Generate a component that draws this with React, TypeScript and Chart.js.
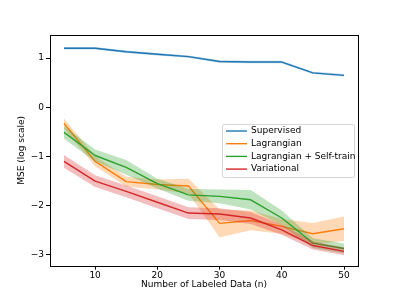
import React, { useEffect, useRef } from "react";
import { Chart, registerables } from "chart.js";

Chart.register(...registerables);

const nValues = [5, 10, 15, 20, 25, 30, 35, 40, 45, 50];
const xTicks = [10, 20, 30, 40, 50];
const yTicks = [-3, -2, -1, 0, 1];

const supervisedMean = [1.2, 1.2, 1.13, 1.08, 1.03, 0.93, 0.92, 0.92, 0.7, 0.65];
const supervisedStd = [0.025, 0.025, 0.025, 0.025, 0.025, 0.025, 0.025, 0.025, 0.025, 0.025];
const lagrangianMean = [-0.33, -1.1, -1.51, -1.57, -1.6, -2.36, -2.3, -2.42, -2.57, -2.47];
const lagrangianStd = [0.1, 0.1, 0.1, 0.1, 0.15, 0.28, 0.2, 0.15, 0.22, 0.25];
const selfTrainMean = [-0.51, -0.98, -1.22, -1.55, -1.78, -1.81, -1.88, -2.25, -2.76, -2.87];
const selfTrainStd = [0.13, 0.12, 0.15, 0.1, 0.12, 0.14, 0.2, 0.15, 0.1, 0.1];
const variationalMean = [-1.1, -1.5, -1.71, -1.93, -2.15, -2.17, -2.25, -2.49, -2.81, -2.93];
const variationalStd = [0.13, 0.12, 0.12, 0.12, 0.12, 0.12, 0.12, 0.1, 0.08, 0.08];

const seriesNames = ["Supervised", "Lagrangian", "Lagrangian + Self-train", "Variational"];
const seriesColors = ["#1f77b4", "#ff7f0e", "#2ca02c", "#d62728"];
const seriesFills = [
  "rgba(31,119,180,0.3)",
  "rgba(255,127,14,0.3)",
  "rgba(44,160,44,0.3)",
  "rgba(214,39,40,0.3)",
];
const seriesMeans = [supervisedMean, lagrangianMean, selfTrainMean, variationalMean];
const seriesStds = [supervisedStd, lagrangianStd, selfTrainStd, variationalStd];

const FONT = "'DejaVu Sans', sans-serif";

const fmt = (v: number) => (v < 0 ? "\u2212" + Math.abs(v) : String(v));

const framePlugin = {
  id: "frame",
  afterDatasetsDraw(chart: any) {
    const { ctx, chartArea } = chart;
    ctx.save();
    ctx.strokeStyle = "#000";
    ctx.lineWidth = 1;
    ctx.strokeRect(
      Math.round(chartArea.left) + 0.5,
      Math.round(chartArea.top) + 0.5,
      Math.round(chartArea.right - chartArea.left),
      Math.round(chartArea.bottom - chartArea.top)
    );
    // legend
    const lx = 222, ly = 124, lw = 132, lh = 53;
    ctx.fillStyle = "rgba(255,255,255,0.8)";
    ctx.strokeStyle = "rgba(204,204,204,0.8)";
    ctx.lineWidth = 1;
    ctx.beginPath();
    const r = 2;
    ctx.moveTo(lx + r + 0.5, ly + 0.5);
    ctx.arcTo(lx + lw + 0.5, ly + 0.5, lx + lw + 0.5, ly + lh + 0.5, r);
    ctx.arcTo(lx + lw + 0.5, ly + lh + 0.5, lx + 0.5, ly + lh + 0.5, r);
    ctx.arcTo(lx + 0.5, ly + lh + 0.5, lx + 0.5, ly + 0.5, r);
    ctx.arcTo(lx + 0.5, ly + 0.5, lx + lw + 0.5, ly + 0.5, r);
    ctx.closePath();
    ctx.fill();
    ctx.stroke();
    ctx.font = "9px " + FONT;
    ctx.textBaseline = "middle";
    ctx.textAlign = "left";
    seriesNames.forEach((name, i) => {
      const y = 131 + i * 12.7;
      ctx.strokeStyle = seriesColors[i];
      ctx.lineWidth = 1.4;
      ctx.beginPath();
      ctx.moveTo(226, y);
      ctx.lineTo(247, y);
      ctx.stroke();
      ctx.fillStyle = "#000";
      ctx.fillText(name, 251, y);
    });
    ctx.restore();
  },
};

export default function App() {
  const canvasRef = useRef<HTMLCanvasElement | null>(null);

  useEffect(() => {
    if (!canvasRef.current) return;
    const datasets: any[] = [];
    seriesNames.forEach((name, i) => {
      const base = (3 - i) * 3;
      const mean = seriesMeans[i];
      const std = seriesStds[i];
      datasets.push({
        label: name + " upper",
        data: nValues.map((x, k) => ({ x, y: mean[k] + std[k] })),
        borderWidth: 0,
        pointRadius: 0,
        fill: false,
        order: base + 2,
      });
      datasets.push({
        label: name + " lower",
        data: nValues.map((x, k) => ({ x, y: mean[k] - std[k] })),
        borderWidth: 0,
        pointRadius: 0,
        backgroundColor: seriesFills[i],
        fill: "-1",
        order: base + 1,
      });
      datasets.push({
        label: name,
        data: nValues.map((x, k) => ({ x, y: mean[k] })),
        borderColor: seriesColors[i],
        borderWidth: 1.4,
        pointRadius: 0,
        fill: false,
        order: base,
      });
    });

    const chart = new Chart(canvasRef.current, {
      type: "line",
      data: { datasets },
      plugins: [framePlugin],
      options: {
        animation: false,
        responsive: true,
        maintainAspectRatio: false,
        layout: { padding: { left: 0, top: 35, right: 41, bottom: 0 } },
        plugins: {
          legend: { display: false },
          tooltip: { enabled: false },
        },
        elements: { line: { tension: 0, borderJoinStyle: "round" } },
        scales: {
          x: {
            type: "linear",
            min: 2.75,
            max: 52.25,
            afterBuildTicks: (axis: any) => {
              axis.ticks = xTicks.map((v) => ({ value: v }));
            },
            afterFit: (axis: any) => {
              axis.height = 33.3;
            },
            grid: { drawOnChartArea: false, drawTicks: true, tickLength: 4, color: "#000" },
            border: { display: false },
            ticks: {
              color: "#000",
              font: { family: FONT, size: 9 },
              padding: 1,
              maxRotation: 0,
              callback: (v: any) => fmt(Number(v)),
            },
            title: {
              display: true,
              text: "Number of Labeled Data (n)",
              color: "#000",
              font: { family: FONT, size: 9 },
              padding: { top: 0, bottom: 8.6 },
            },
          },
          y: {
            type: "linear",
            min: -3.22,
            max: 1.47,
            afterBuildTicks: (axis: any) => {
              axis.ticks = yTicks.map((v) => ({ value: v }));
            },
            afterFit: (axis: any) => {
              axis.width = 50;
            },
            grid: { drawOnChartArea: false, drawTicks: true, tickLength: 4, color: "#000" },
            border: { display: false },
            ticks: {
              color: "#000",
              font: { family: FONT, size: 9 },
              padding: 2,
              callback: (v: any) => fmt(Number(v)),
            },
            title: {
              display: true,
              text: "MSE (log scale)",
              color: "#000",
              font: { family: FONT, size: 9 },
              padding: { top: 16.6, bottom: 0 },
            },
          },
        },
      },
    });
    return () => chart.destroy();
  }, []);

  return (
    <div style={{ position: "fixed", left: 0, top: 0, width: 399, height: 299, background: "#fff" }}>
      <canvas ref={canvasRef} />
    </div>
  );
}
